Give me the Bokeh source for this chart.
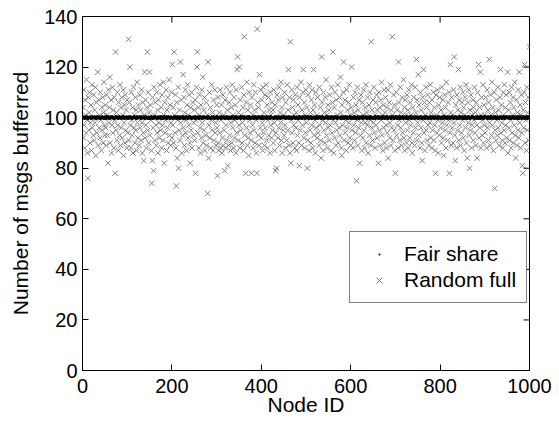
from bokeh.plotting import figure
from bokeh.models import Range1d, FixedTicker, Legend, LegendItem, ColumnDataSource
from bokeh.embed import file_html
from bokeh.resources import INLINE

FONT = "Liberation Sans"

x_ticks = [0, 200, 400, 600, 800, 1000]
y_ticks = [0, 20, 40, 60, 80, 100, 120, 140]

node_ids = list(range(1, 1001))

random_full = [
    104, 92, 111, 97, 88, 107, 101, 94, 115, 99, 86, 76, 108, 95, 102, 110, 90, 98, 105, 87, 113, 96, 100, 93, 109,
    91, 103, 98, 112, 85, 106, 94, 100, 118, 89, 107, 96, 101, 92, 110, 99, 87, 104, 95, 108, 90, 102, 114, 97, 93,
    105, 96, 89, 109, 101, 93, 82, 111, 98, 104, 116, 90, 100, 107, 86, 97, 112, 94, 103, 88, 108, 99, 78, 126, 95,
    102, 91, 110, 97, 87, 106, 100, 93, 113, 89, 104, 96, 108, 92, 101, 111, 85, 98, 105, 90, 109, 95, 103, 88, 107,
    94, 100, 131, 91, 106, 120, 97, 88, 110, 99, 93, 104, 86, 112, 96, 101, 90, 108, 95, 103, 87, 114, 98, 92, 105,
    100, 89, 109, 96, 103, 91, 111, 98, 86, 106, 94, 83, 101, 118, 92, 107, 97, 88, 104, 126, 95, 110, 90, 102, 118,
    93, 105, 99, 87, 74, 83, 108, 96, 79, 112, 101, 91, 106, 97, 89, 110, 94, 103, 86, 107, 98, 92, 113, 100, 95,
    104, 88, 109, 97, 91, 114, 101, 82, 106, 94, 99, 111, 87, 103, 96, 108, 90, 100, 115, 93, 105, 89, 98, 110, 92,
    121, 97, 104, 90, 126, 101, 94, 109, 88, 73, 106, 84, 99, 112, 80, 95, 103, 91, 122, 98, 107, 86, 100, 93, 117,
    96, 108, 89, 102, 111, 94, 99, 87, 105, 113, 92, 101, 97, 109, 90, 82, 104, 95, 110, 88, 100, 106, 93, 98, 103,
    91, 107, 78, 99, 112, 120, 126, 94, 104, 88, 101, 109, 96, 86, 105, 92, 111, 98, 116, 90, 103, 95, 108, 87, 100,
    93, 106, 89, 101, 70, 122, 84, 97, 110, 92, 104, 88, 99, 113, 95, 102, 87, 107, 91, 100, 111, 94, 98, 89, 105,
    96, 77, 108, 90, 87, 102, 94, 111, 88, 99, 105, 86, 92, 109, 89, 101, 95, 79, 107, 88, 97, 112, 91, 103, 81,
    100, 89, 106, 93, 110, 87, 98, 104, 90, 113, 96, 101, 88, 108, 92, 99, 105, 86, 111, 94, 119, 124, 91, 102, 97,
    120, 88, 107, 95, 101, 112, 90, 98, 104, 87, 109, 132, 93, 100, 78, 106, 96, 114, 89, 103, 92, 85, 110, 99, 94,
    105, 91, 78, 108, 97, 101, 88, 113, 95, 103, 90, 110, 99, 86, 78, 135, 106, 93, 104, 89, 117, 100, 96, 111, 92,
    107, 98, 87, 112, 94, 102, 89, 109, 96, 100, 113, 91, 105, 88, 99, 108, 93, 103, 86, 110, 97, 101, 92, 106, 95,
    103, 90, 111, 98, 87, 105, 79, 94, 80, 109, 100, 92, 107, 96, 112, 89, 102, 98, 114, 91, 104, 86, 108, 95, 101,
    93, 110, 97, 88, 106, 100, 91, 113, 95, 103, 119, 89, 108, 86, 130, 82, 99, 111, 94, 104, 90, 107, 97, 101, 88,
    109, 96, 102, 87, 112, 93, 105, 99, 90, 81, 108, 95, 100, 114, 89, 103, 97, 110, 119, 92, 106, 88, 101, 94, 111,
    98, 104, 80, 91, 109, 100, 87, 113, 95, 102, 90, 107, 97, 111, 88, 103, 119, 93, 105, 99, 86, 110, 96, 101, 92,
    108, 94, 100, 89, 112, 97, 104, 91, 84, 124, 106, 99, 87, 110, 95, 102, 90, 108, 98, 115, 93, 101, 88, 105, 96,
    103, 91, 109, 97, 100, 87, 112, 94, 106, 126, 99, 86, 104, 92, 110, 98, 89, 107, 95, 101, 113, 90, 100, 96, 108,
    93, 116, 102, 88, 85, 105, 97, 110, 122, 91, 100, 107, 94, 99, 87, 111, 96, 103, 90, 106, 98, 113, 92, 101, 89,
    104, 120, 95, 100, 88, 108, 97, 102, 91, 110, 94, 105, 75, 99, 112, 89, 103, 96, 107, 82, 100, 93, 109, 98, 87,
    106, 92, 101, 111, 95, 88, 104, 98, 113, 90, 102, 97, 108, 86, 100, 105, 93, 110, 99, 89, 130, 96, 103, 91, 107,
    98, 112, 94, 101, 88, 106, 97, 109, 92, 103, 100, 82, 110, 95, 104, 89, 107, 99, 114, 93, 101, 87, 105, 96, 111,
    90, 102, 108, 97, 88, 104, 94, 111, 84, 100, 106, 92, 98, 113, 89, 103, 96, 132, 101, 91, 109, 95, 105, 87, 78,
    100, 110, 93, 103, 97, 88, 122, 106, 99, 91, 112, 96, 102, 89, 108, 94, 100, 115, 92, 104, 87, 107, 98, 101, 90,
    109, 95, 103, 88, 111, 99, 92, 106, 97, 101, 113, 90, 86, 104, 94, 108, 100, 89, 112, 96, 102, 123, 91, 107, 98,
    117, 93, 105, 100, 88, 110, 96, 103, 90, 83, 108, 99, 119, 94, 106, 87, 101, 112, 95, 104, 91, 109, 97, 100, 89,
    106, 98, 113, 92, 102, 88, 107, 95, 100, 110, 91, 104, 97, 87, 78, 109, 101, 94, 111, 99, 86, 105, 93, 108, 100,
    96, 103, 90, 112, 98, 107, 92, 85, 101, 109, 95, 104, 88, 114, 97, 100, 91, 106, 99, 110, 78, 94, 121, 102, 89,
    108, 96, 101, 90, 111, 98, 124, 93, 83, 105, 100, 88, 109, 95, 103, 119, 91, 107, 97, 112, 89, 102, 94, 106, 99,
    110, 92, 104, 87, 101, 108, 96, 113, 90, 100, 84, 106, 98, 111, 93, 80, 103, 95, 109, 88, 101, 97, 107, 91, 104,
    99, 112, 94, 102, 89, 106, 97, 84, 110, 100, 121, 92, 104, 96, 118, 88, 101, 108, 93, 99, 113, 90, 105, 97, 101,
    94, 108, 100, 88, 111, 96, 103, 91, 106, 123, 98, 89, 109, 101, 93, 114, 97, 104, 87, 100, 110, 72, 95, 102, 91,
    107, 99, 93, 112, 96, 103, 89, 100, 108, 119, 94, 105, 98, 91, 88, 110, 101, 95, 113, 90, 104, 97, 109, 92, 100,
    118, 86, 103, 96, 110, 91, 106, 99, 88, 112, 94, 101, 108, 90, 104, 97, 114, 93, 84, 100, 107, 89, 102, 95, 111,
    92, 118, 98, 105, 88, 101, 109, 94, 81, 78, 103, 96, 110, 121, 90, 106, 99, 87, 112, 95, 102, 108, 91, 100, 128,
]

fair_share = [
    100, 100, 100.4, 100, 99.7, 100, 100, 100, 100.5, 100, 100, 99.7, 100, 100, 100, 100.4, 100, 100, 100, 99.7, 100, 100.5, 100, 100, 100,
    100, 100.4, 100, 100, 100, 99.7, 100, 100.5, 100, 100, 100, 100, 100.4, 100, 99.7, 100, 100, 100, 100.5, 100, 100, 100, 99.7, 100, 100.4,
    100, 100, 99.7, 100.5, 100, 100, 100, 100, 100.4, 100, 99.7, 100, 100, 100.5, 100, 100, 100, 100.4, 100, 100, 99.7, 100, 100, 100, 100.5,
    100.4, 100, 100, 100, 99.7, 100, 100.5, 100, 100, 100, 100, 99.7, 100.4, 100, 100, 100, 100.5, 100, 99.7, 100, 100, 100, 100, 100.4, 100,
    100, 99.7, 100, 100.5, 100, 100, 100, 100.4, 100, 100, 99.7, 100, 100, 100, 100.5, 100, 100.4, 100, 100, 99.7, 100, 100, 100.5, 100, 100,
    100, 100, 100.4, 100, 100, 99.7, 100.5, 100, 100, 100, 100, 100.4, 100, 99.7, 100, 100.5, 100, 100, 100, 100, 99.7, 100, 100.4, 100, 100,
    99.7, 100, 100, 100.5, 100, 100, 100, 99.7, 100.4, 100, 100, 100, 100.5, 100, 100, 99.7, 100, 100, 100.4, 100, 100, 100, 100, 100.5, 99.7,
    100, 100.4, 100, 100, 99.7, 100, 100, 100.5, 100, 100, 100, 100.4, 99.7, 100, 100, 100, 100.5, 100, 100, 100, 99.7, 100, 100.4, 100, 100,
    100, 100, 99.7, 100, 100.5, 100, 100, 100, 100.4, 99.7, 100, 100, 100.5, 100, 100, 100, 99.7, 100.4, 100, 100, 100, 100, 100.5, 100, 99.7,
    100.4, 100, 100, 99.7, 100, 100, 100.5, 100, 100, 100, 99.7, 100, 100.4, 100, 100, 100.5, 100, 100, 99.7, 100, 100, 100, 100.4, 100, 100,
    100, 99.7, 100.5, 100, 100, 100, 100, 100.4, 100, 99.7, 100, 100, 100, 100.5, 100, 100, 99.7, 100, 100.4, 100, 100, 100.5, 100, 100, 100,
    100, 100, 100, 100.4, 99.7, 100, 100.5, 100, 100, 100, 100, 99.7, 100, 100.4, 100, 100, 100, 100.5, 100, 99.7, 100, 100, 100, 100.4, 100,
    100.5, 100, 99.7, 100, 100, 100, 100.4, 100, 100, 99.7, 100.5, 100, 100, 100, 100, 100.4, 100, 99.7, 100, 100, 100, 100.5, 100, 100, 99.7,
    100, 100.4, 100, 100, 100, 99.7, 100, 100, 100.5, 100, 100, 100, 99.7, 100.4, 100, 100, 100, 100.5, 100, 100, 99.7, 100, 100.4, 100, 100,
    100, 100, 100.5, 99.7, 100, 100, 100, 100.4, 100, 100, 100.5, 99.7, 100, 100, 100, 100.4, 100, 100, 100, 99.7, 100.5, 100, 100, 100.4, 100,
    99.7, 100, 100, 100, 100.4, 100, 100, 99.7, 100, 100.5, 100, 100, 100.4, 100, 99.7, 100, 100, 100, 100.5, 100, 100, 100.4, 100, 99.7, 100,
    100, 100.5, 100, 99.7, 100, 100, 100.4, 100, 100, 100, 99.7, 100.5, 100, 100, 100, 100, 100.4, 100, 99.7, 100, 100.5, 100, 100, 100, 100,
    100, 100, 99.7, 100, 100.4, 100, 100, 100, 100.5, 100, 99.7, 100, 100, 100.4, 100, 100, 100, 99.7, 100, 100.5, 100, 100, 100, 100.4, 100,
    100.5, 100, 100, 100, 99.7, 100.4, 100, 100, 100, 100, 100.5, 100, 99.7, 100, 100, 100.4, 100, 100, 99.7, 100, 100, 100.5, 100, 100, 100,
    100, 99.7, 100, 100.4, 100, 100, 100, 99.7, 100, 100.5, 100, 100, 100, 100.4, 99.7, 100, 100, 100, 100.5, 100, 100, 99.7, 100.4, 100, 100,
    100, 100, 100.5, 100, 100, 99.7, 100.4, 100, 100, 100, 100.5, 100, 99.7, 100, 100, 100, 100.4, 100, 100, 99.7, 100, 100.5, 100, 100, 100.4,
    99.7, 100, 100, 100.5, 100, 100, 100, 100.4, 99.7, 100, 100, 100.5, 100, 100, 100, 99.7, 100, 100, 100.4, 100, 100.5, 100, 100, 99.7, 100,
    100, 100.4, 100, 100, 99.7, 100, 100.5, 100, 100, 100, 100, 99.7, 100.4, 100, 100, 100.5, 100, 100, 100, 99.7, 100, 100.4, 100, 100, 100,
    100, 100, 99.7, 100.5, 100, 100, 100, 100, 100.4, 99.7, 100, 100, 100.5, 100, 100, 100, 100.4, 99.7, 100, 100, 100, 100, 100.5, 100, 99.7,
    100.4, 100, 100, 100, 100, 99.7, 100.5, 100, 100, 100.4, 100, 99.7, 100, 100, 100, 100.5, 100, 100, 99.7, 100.4, 100, 100, 100, 100, 100.5,
    100, 99.7, 100.4, 100, 100, 100, 100, 100.5, 100, 100, 99.7, 100, 100.4, 100, 100, 100, 99.7, 100.5, 100, 100, 100.4, 100, 100, 99.7, 100,
    100, 100, 100, 100.5, 99.7, 100, 100.4, 100, 100, 100, 100.5, 100, 99.7, 100, 100.4, 100, 100, 100, 100, 99.7, 100.5, 100, 100, 100.4, 100,
    99.7, 100.4, 100, 100, 100, 100.5, 100, 99.7, 100, 100, 100, 100.4, 100, 100, 99.7, 100.5, 100, 100, 100, 100.4, 100, 99.7, 100, 100, 100.5,
    100, 100, 100.4, 99.7, 100, 100, 100, 100.5, 100, 99.7, 100.4, 100, 100, 100, 100, 100.5, 99.7, 100, 100, 100.4, 100, 100, 100, 99.7, 100,
    100.5, 100, 99.7, 100, 100, 100.4, 100, 100, 100.5, 100, 99.7, 100, 100, 100.4, 100, 100, 100, 99.7, 100.5, 100, 100, 100.4, 100, 100, 100,
    100, 99.7, 100, 100.4, 100, 100, 100.5, 100, 99.7, 100, 100, 100, 100.4, 100, 100, 99.7, 100.5, 100, 100, 100, 100.4, 100, 100, 99.7, 100,
    100, 100, 100.5, 100, 99.7, 100.4, 100, 100, 100, 100.5, 100, 99.7, 100, 100, 100.4, 100, 100, 100, 99.7, 100, 100.5, 100, 100.4, 100, 100,
    99.7, 100, 100, 100.4, 100, 100, 99.7, 100.5, 100, 100, 100, 100.4, 100, 100, 99.7, 100, 100.5, 100, 100, 100, 100, 99.7, 100.4, 100, 100,
    100, 100.5, 100, 100, 99.7, 100, 100, 100.4, 100, 100.5, 100, 99.7, 100, 100, 100, 100.4, 100, 99.7, 100, 100.5, 100, 100, 100, 100.4, 99.7,
    100.4, 100, 100, 99.7, 100, 100.5, 100, 100, 100, 99.7, 100.4, 100, 100, 100.5, 100, 100, 99.7, 100, 100, 100.4, 100, 100, 100.5, 100, 100,
    100, 100, 99.7, 100, 100.4, 100, 100, 100.5, 99.7, 100, 100, 100, 100.4, 100, 99.7, 100.5, 100, 100, 100, 100, 100.4, 99.7, 100, 100, 100.5,
    100, 100.4, 100, 100, 100, 99.7, 100.5, 100, 100, 100, 100.4, 99.7, 100, 100, 100.5, 100, 100, 100, 99.7, 100.4, 100, 100, 100.5, 100, 99.7,
    99.7, 100, 100.4, 100, 100, 100, 99.7, 100, 100.5, 100, 100, 100.4, 100, 99.7, 100, 100, 100.5, 100, 100, 99.7, 100, 100.4, 100, 100.5, 100,
    100, 100, 100, 100.4, 99.7, 100.5, 100, 100, 99.7, 100, 100.4, 100, 100, 100, 100.5, 99.7, 100, 100, 100.4, 100, 100, 99.7, 100.5, 100, 100,
    100.5, 99.7, 100, 100, 100.4, 100, 100, 99.7, 100, 100.5, 100, 100, 100.4, 99.7, 100, 100, 100, 100.5, 100, 99.7, 100.4, 100, 100, 100.5, 100,
]

FRAME_W, FRAME_H = 447, 354
X_MIN, X_MAX = 0, 1000
Y_MIN, Y_MAX = 0, 140
TICK_PX = 6

src = ColumnDataSource(dict(node=node_ids, fair=fair_share, rnd=random_full))

p = figure(
    frame_width=FRAME_W, frame_height=FRAME_H,
    min_border_left=82, min_border_right=30, min_border_top=16, min_border_bottom=51,
    x_range=Range1d(X_MIN, X_MAX), y_range=Range1d(Y_MIN, Y_MAX),
    output_backend="svg", toolbar_location=None,
    background_fill_color="white", border_fill_color="white",
)
p.grid.visible = False
p.outline_line_color = "black"
p.outline_line_width = 1

r_rand = p.scatter("node", "rnd", source=src, marker="x", size=7.5,
                   line_color="#808080", line_width=1)
r_fair = p.scatter("node", "fair", source=src, marker="dot", size=12,
                   fill_color="black", line_color="black", line_width=1)

# mirrored inward ticks on the top and right edges (box on)
dy = TICK_PX * (Y_MAX - Y_MIN) / FRAME_H
dx = TICK_PX * (X_MAX - X_MIN) / FRAME_W
p.segment(x0=x_ticks, x1=x_ticks, y0=[Y_MAX] * len(x_ticks), y1=[Y_MAX - dy] * len(x_ticks),
          line_color="black", line_width=1)
p.segment(x0=[X_MAX] * len(y_ticks), x1=[X_MAX - dx] * len(y_ticks), y0=y_ticks, y1=y_ticks,
          line_color="black", line_width=1)

for ax, ticks in ((p.xaxis[0], x_ticks), (p.yaxis[0], y_ticks)):
    ax.ticker = FixedTicker(ticks=ticks)
    ax.major_tick_in = TICK_PX
    ax.major_tick_out = 0
    ax.minor_tick_line_color = None
    ax.axis_line_color = "black"
    ax.major_tick_line_color = "black"
    ax.major_label_text_font = FONT
    ax.major_label_text_font_size = "20px"
    ax.major_label_text_color = "black"
    ax.axis_label_text_font = FONT
    ax.axis_label_text_font_size = "21px"
    ax.axis_label_text_font_style = "normal"
    ax.axis_label_text_color = "black"

p.xaxis[0].axis_label = "Node ID"
p.yaxis[0].axis_label = "Number of msgs bufferred"
p.xaxis[0].major_label_standoff = 8
p.xaxis[0].axis_label_standoff = -3
p.yaxis[0].major_label_standoff = 5
p.yaxis[0].axis_label_standoff = 9

legend = Legend(
    items=[LegendItem(label="Fair share", renderers=[r_fair]),
           LegendItem(label="Random full", renderers=[r_rand])],
    location=(267, 67),
    label_text_font=FONT, label_text_font_size="21px", label_text_color="black",
    border_line_color="black", border_line_width=1,
    background_fill_color="white", background_fill_alpha=1,
    glyph_width=38, glyph_height=20, label_height=20, label_standoff=6,
    padding=10, spacing=2, margin=0,
)
p.add_layout(legend, "center")

open("out.html", "w").write(file_html(p, INLINE))
